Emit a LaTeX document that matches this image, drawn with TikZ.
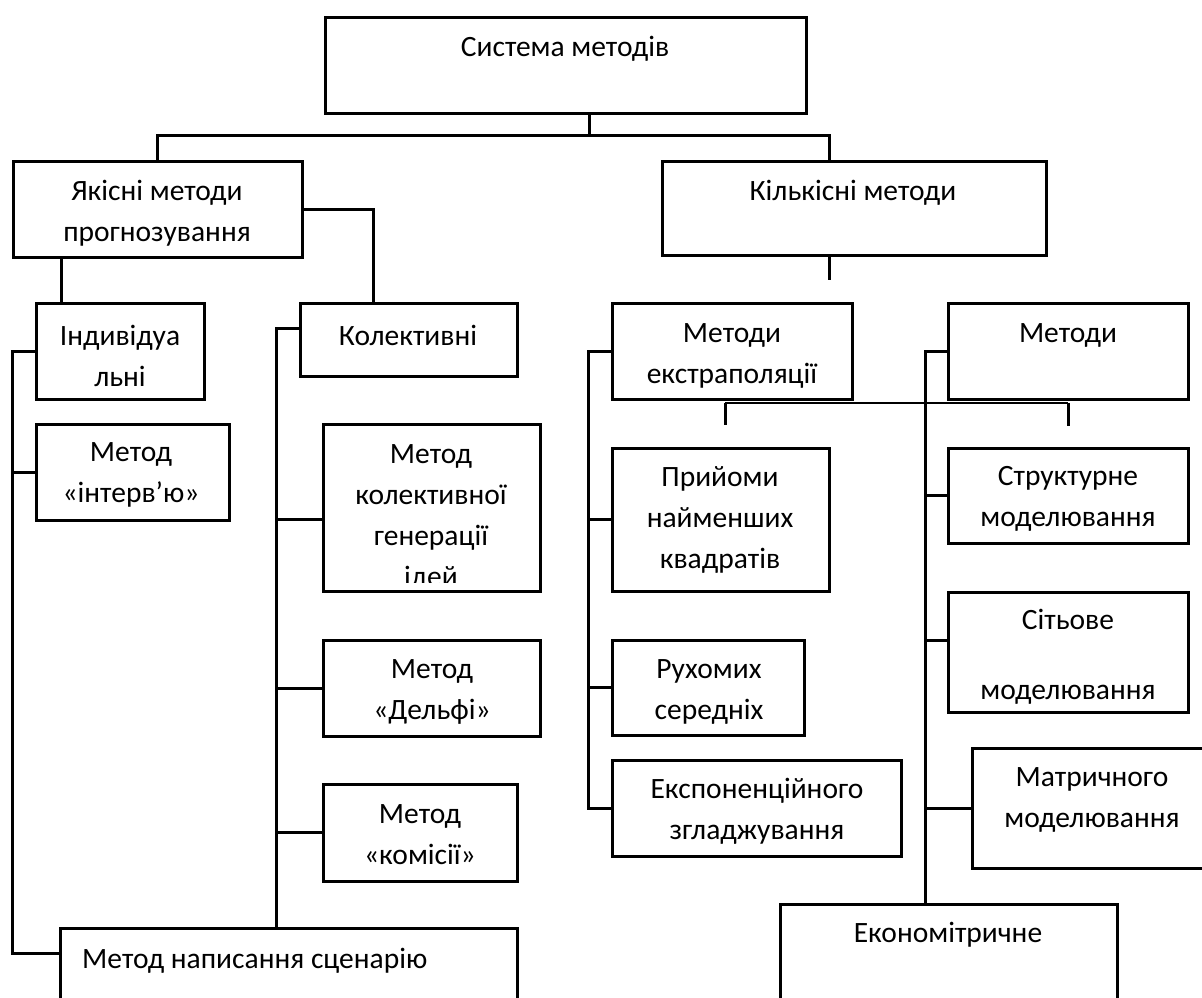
\documentclass[tikz,border=0pt]{standalone}
\usepackage{fontspec}
\setmainfont{Carlito}

\tikzset{
  box/.style={draw, line width=3pt, anchor=north west, inner sep=0pt, outer sep=0pt},
  txt/.style={align=center, inner sep=0pt, font=\fontsize{29.5}{41}\selectfont},
  link/.style={line width=3pt},
  thinlink/.style={line width=2pt}
}
\newcommand{\methbox}[5]{%
  \node[box, minimum width={(#4-#2)*1pt}, minimum height={(#5-#3)*1pt}] (#1) at (#2,#3) {};}

\begin{document}
\begin{tikzpicture}[x=1pt,y=-1pt]
  \useasboundingbox (0,0) rectangle (1202,997);
  \clip (0,0) rectangle (1202,997);

  % boxes
  \methbox{root}{325}{17}{806}{113}
  \methbox{qual}{13}{161}{302}{257}
  \methbox{quant}{662}{161}{1046}{255}
  \methbox{indiv}{36}{303}{204}{399}
  \methbox{coll}{300}{303}{517}{376}
  \methbox{extrap}{612}{303}{852}{399}
  \methbox{model}{948}{303}{1188}{399}
  \methbox{interview}{36}{424}{229}{520}
  \methbox{brainstorm}{323}{424}{540}{591}
  \methbox{delphi}{323}{640}{540}{736}
  \methbox{commission}{323}{784}{517}{881}
  \methbox{scenario}{60}{928}{517}{1040}
  \methbox{lsq}{612}{448}{829}{591}
  \methbox{moving}{612}{640}{804}{735}
  \methbox{expo}{612}{760}{901}{856}
  \methbox{struct}{948}{448}{1188}{543}
  \methbox{network}{948}{592}{1188}{712}
  \methbox{matrix}{972}{748}{1215}{868}
  \methbox{econ}{780}{904}{1117}{1040}

  % texts
  \node[txt] (t-root) at (565,49) {Система методів};
  \node[txt] (t-qual) at (157,213) {Якісні методи\\прогнозування};
  \node[txt] (t-quant) at (853,193) {Кількісні методи};
  \node[txt] (t-indiv) at (120,356) {Індивідуа\\льні};
  \node[txt] (t-coll) at (408,335) {Колективні};
  \node[txt] (t-extrap) at (732,356) {Методи\\екстраполяції};
  \node[txt] (t-model) at (1068,335) {Методи};
  \node[txt] (t-interview) at (131,475) {Метод\\«інтерв’ю»};
  \begin{scope}
    \clip (323,424) rectangle (540,582);
    \node[txt] (t-brain) at (431,518) {Метод\\колективної\\генерації\\ідей};
  \end{scope}
  \node[txt] (t-delphi) at (432,692) {Метод\\«Дельфі»};
  \node[txt] (t-comm) at (420,835) {Метод\\«комісії»};
  \node[txt, anchor=west] (t-scen) at (82,961) {Метод написання сценарію};
  \node[txt] (t-lsq) at (720,520) {Прийоми\\найменших\\квадратів};
  \node[txt] (t-moving) at (709,692) {Рухомих\\середніх};
  \node[txt] (t-expo) at (757,811) {Експоненційного\\згладжування};
  \node[txt] (t-struct) at (1068,499) {Структурне\\моделювання};
  \node[txt] (t-network) at (1068,657) {Сітьове\\[29pt]моделювання};
  \node[txt] (t-matrix) at (1092,800) {Матричного\\моделювання};
  \node[txt] (t-econ) at (948,935) {Економітричне};

  % connectors
  \coordinate (fork) at (589,135);
  \coordinate (busA) at (12,0);
  \coordinate (busB) at (276,0);
  \coordinate (busC) at (588,0);
  \coordinate (busD) at (925,0);
  \coordinate (bar-l) at (725,403);
  \coordinate (bar-r) at (1068,403);

  \draw[link] (root.south -| fork) -- (fork);
  \draw[link] (qual.north) |- (fork) -| ([xshift=-25pt]quant.north);
  \draw[link] ([xshift=-25pt]quant.south) -- ++(0,25);
  \draw[link] (qual.east) -| ([xshift=-35pt]coll.north);
  \draw[link] ([xshift=-59pt]indiv.north) -- ([xshift=-59pt]indiv.north |- qual.south);

  \draw[link] (indiv.west) -- (indiv.west -| busA) |- ([yshift=-25pt]scenario.north west);
  \draw[link] (interview.west) -- (interview.west -| busA);

  \draw[link] ([yshift=11pt]coll.west) -- ([yshift=11pt]coll.west -| busB) -- (busB |- scenario.north);
  \draw[link] ([yshift=-12pt]brainstorm.west) -- ([yshift=-12pt]brainstorm.west -| busB);
  \draw[link] (delphi.west) -- (delphi.west -| busB);
  \draw[link] (commission.west) -- (commission.west -| busB);

  \draw[link] (extrap.west) -- (extrap.west -| busC) |- (expo.west);
  \draw[link] (lsq.west) -- (lsq.west -| busC);
  \draw[link] (moving.west) -- (moving.west -| busC);

  \draw[link] (model.west) -- (model.west -| busD) -- (busD |- econ.north);
  \draw[link] (struct.west) -- (struct.west -| busD);
  \draw[link] ([yshift=12pt]network.west) -- ([yshift=12pt]network.west -| busD);
  \draw[link] (matrix.west) -- (matrix.west -| busD);

  \draw[thinlink] (bar-l) -- (bar-r);
  \draw[link] (bar-l) -- ++(0,22);
  \draw[link] (bar-r) -- ++(0,23);
\end{tikzpicture}
\end{document}
